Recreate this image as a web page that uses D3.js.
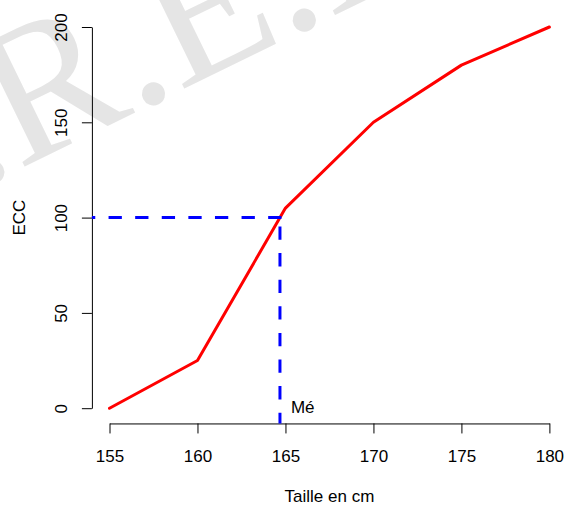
<!DOCTYPE html>
<html>
<head>
<meta charset="utf-8">
<script src="https://cdn.jsdelivr.net/npm/d3@7"></script>
<style>
  html, body { margin: 0; padding: 0; background: #fff; }
  svg { display: block; }
  text { font-family: "Liberation Sans", Arial, Helvetica, sans-serif; }
</style>
</head>
<body>
<svg id="chart" width="564" height="506"></svg>
<script>
// ---- data ----
const heights = [155, 160, 165, 170, 175, 180];
const eccValues = [0, 25, 105, 150, 180, 200];
const xTicks = [155, 160, 165, 170, 175, 180];
const yTicks = [0, 50, 100, 150, 200];
const medianLevel = 100;
const xTitle = "Taille en cm";
const yTitle = "ECC";
const medianLabel = "Mé";
const watermarkMain = "R.E.M.";
const watermarkPre = "I.";

// ---- setup ----
const svg = d3.select("#chart");
const x = d3.scaleLinear().domain([155, 180]).range([109.5, 549.4]);
const y = d3.scaleLinear().domain([0, 200]).range([408.2, 27]);
const xMin = 154, xMax = 181, yMin = -8, yMax = 208; // R 4% extension
const fs = 17;

// watermark
const wmFont = "'Liberation Serif', 'Times New Roman', serif";
const wm = svg.append("g")
  .attr("transform", "translate(18.5,169.4) rotate(-26)")
  .attr("fill", "#e5e5e5");
wm.append("text").attr("x", 0).attr("y", 0).attr("text-anchor", "start")
  .style("font-family", wmFont).style("font-size", "195px").text(watermarkMain);
wm.append("text").attr("x", 0).attr("y", 0).attr("text-anchor", "end")
  .style("font-family", wmFont).style("font-size", "195px").text(watermarkPre);

// clip to plot region
svg.append("defs").append("clipPath").attr("id", "plotclip")
  .append("rect")
  .attr("x", x(xMin)).attr("y", y(yMax))
  .attr("width", x(xMax) - x(xMin)).attr("height", y(yMin) - y(yMax));

// x axis
const xAxis = svg.append("g")
  .attr("transform", `translate(0,${y(yMin)})`)
  .call(d3.axisBottom(x).tickValues(xTicks).tickSize(10).tickSizeOuter(0).tickFormat(d3.format("d")));
xAxis.selectAll("text")
  .attr("y", 462 - y(yMin)).attr("dy", 0)
  .style("font-size", fs + "px").attr("fill", "#000");

// y axis
const yAxis = svg.append("g")
  .attr("transform", `translate(${x(xMin)},0)`)
  .call(d3.axisLeft(y).tickValues(yTicks).tickSize(10).tickSizeOuter(0).tickFormat(d3.format("d")));
yAxis.selectAll(".tick text")
  .attr("x", 0).attr("y", 0).attr("dy", 0)
  .attr("text-anchor", "middle")
  .attr("transform", `translate(${67 - x(xMin)},0) rotate(-90)`)
  .style("font-size", fs + "px").attr("fill", "#000");

[xAxis, yAxis].forEach(a => {
  a.selectAll("path.domain").attr("stroke", "#000").attr("stroke-width", 1);
  a.selectAll(".tick line").attr("stroke", "#000").attr("stroke-width", 1);
});

// axis titles
svg.append("text")
  .attr("x", x((xMin + xMax) / 2)).attr("y", 502)
  .attr("text-anchor", "middle").style("font-size", fs + "px").text(xTitle);
svg.append("text")
  .attr("transform", `translate(25,${y((yMin + yMax) / 2)}) rotate(-90)`)
  .attr("text-anchor", "middle").style("font-size", fs + "px").text(yTitle);

// median by linear interpolation on the polygon
let medX = heights[0];
for (let i = 1; i < heights.length; i++) {
  if (eccValues[i] >= medianLevel) {
    const t = (medianLevel - eccValues[i - 1]) / (eccValues[i] - eccValues[i - 1]);
    medX = heights[i - 1] + t * (heights[i] - heights[i - 1]);
    break;
  }
}

// red polygon
const line = d3.line().x((d, i) => x(heights[i])).y(d => y(d));
svg.append("path")
  .attr("d", line(eccValues))
  .attr("fill", "none").attr("stroke", "#ff0000")
  .attr("stroke-width", 3).attr("stroke-linejoin", "round").attr("stroke-linecap", "round");

// blue dashed guides
const dash = "13.3,13.3";
const g = svg.append("g").attr("clip-path", "url(#plotclip)");
g.append("path")
  .attr("d", `M${x(medX) + 1.5},${y(medianLevel)}L${x(xMin) - 5},${y(medianLevel)}`)
  .attr("fill", "none").attr("stroke", "#0000ff").attr("stroke-width", 3)
  .attr("stroke-dasharray", dash);
g.append("path")
  .attr("d", `M${x(medX)},${y(medianLevel)}L${x(medX)},${y(yMin) + 5}`)
  .attr("fill", "none").attr("stroke", "#0000ff").attr("stroke-width", 3)
  .attr("stroke-dasharray", dash).attr("stroke-dashoffset", 17.7);

// median label
svg.append("text")
  .attr("x", x(medX) + 11).attr("y", y(0) + 5)
  .attr("text-anchor", "start").style("font-size", fs + "px").text(medianLabel);
</script>
</body>
</html>
